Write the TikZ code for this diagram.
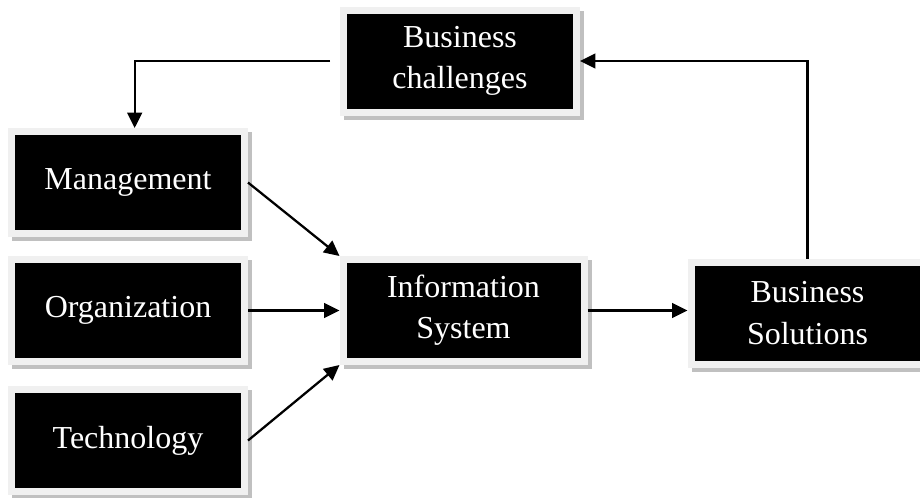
\documentclass[tikz,border=0pt]{standalone}
\usepackage{fontspec}
\setmainfont{Liberation Serif}
\usetikzlibrary{arrows.meta,shadows}
\definecolor{framegray}{HTML}{F0F0F0}
\definecolor{shadegray}{HTML}{C0C0C0}

\begin{document}
\begin{tikzpicture}[x=0.75pt,y=-0.75pt,
        block/.style={fill=black, draw=framegray, line width=5.25pt, text=white,
            align=center, inner sep=0pt, minimum width=174.75pt, minimum height=76.5pt,
            font=\fontsize{24}{31}\selectfont,
            drop shadow={shadow xshift=3pt, shadow yshift=-3pt, opacity=1,
                fill=shadegray, draw=shadegray, line width=5.25pt}},
        link/.style={-{Triangle[length=11.5pt,width=11pt]}, line width=1.7pt}]
        \useasboundingbox (0,0) rectangle (920,497);
        \node[block](chal) at (460,61)    {Business\\challenges};
        \node[block](mgmt) at (128,182.5) {Management};
        \node[block](org)  at (128,310.5) {Organization};
        \node[block](tech) at (128,440.5) {Technology};
        \node[block, minimum width=180.75pt](info) at (463.5,310.5) {Information\\System};
        \node[block](sol)  at (807.5,313) {Business\\Solutions};
        \path
            (mgmt.east) edge [link] (info.north west)
            (org.east)  edge [link] (info.west)
            (tech.east) edge [link] (info.south west)
            (info.east) edge [link] (info.east -| sol.west)
            ;
        \draw[link] (sol.north) |- (chal.east);
        \draw[link] ([xshift=-7.5pt]chal.west) -| ([xshift=5pt]mgmt.north);
    \end{tikzpicture}
\end{document}
